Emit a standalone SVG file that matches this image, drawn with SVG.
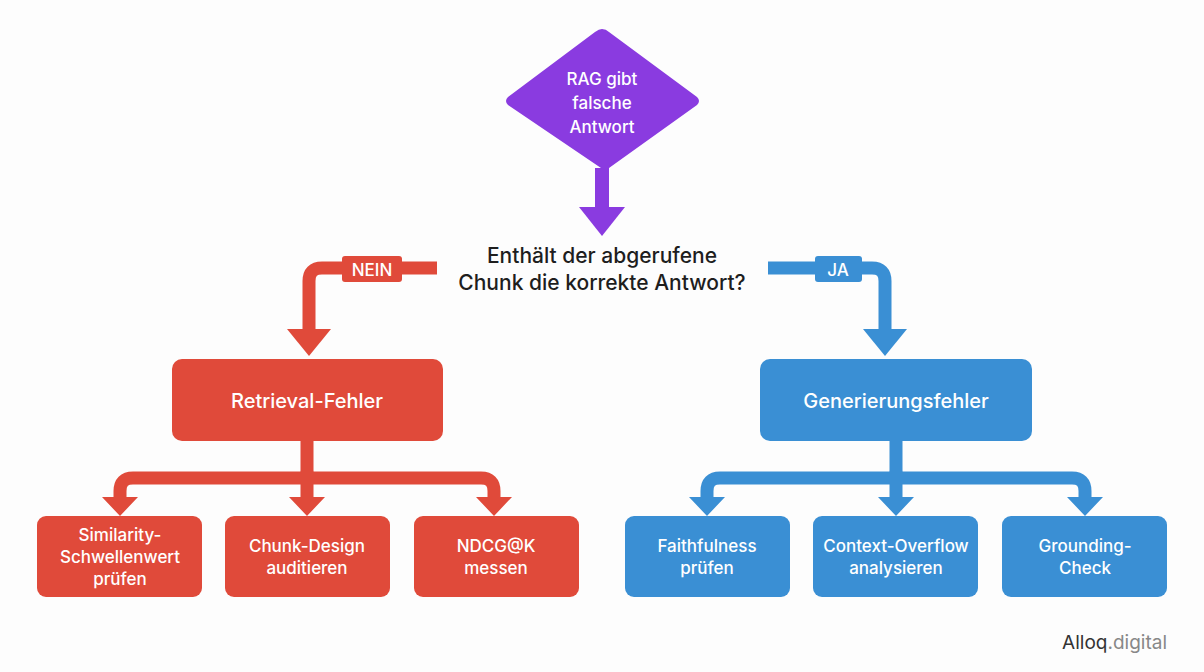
<svg xmlns="http://www.w3.org/2000/svg" width="1204" height="672" viewBox="0 0 1204 672">
<style>
text{font-family:Inter,"Liberation Sans",sans-serif;text-anchor:middle}
.w{fill:#fff;font-size:17px;font-weight:500}
.big{fill:#fff;font-size:20px;font-weight:500}
.r{fill:#E04A3A}.b{fill:#3A8FD4}
.rs{stroke:#E04A3A;fill:none;stroke-width:13}
.bs{stroke:#3A8FD4;fill:none;stroke-width:13}
</style>
<rect width="1204" height="672" fill="#fdfdfd"/>
<g id="connectors">
<path d="M602 168V210" stroke="#8A3BE0" stroke-width="14"/>
<path d="M579 207H625L602 236Z" fill="#8A3BE0"/>
<path class="rs" d="M437 268H322Q309 268 309 281V332"/>
<path class="r" d="M287 329H331L309 356Z"/>
<path class="bs" d="M768 268H872Q885 268 885 281V332"/>
<path class="b" d="M863 329H907L885 356Z"/>
<path class="rs" d="M307 441V470Q307 478 299 478H133Q120 478 120 491V500M307 470Q307 478 315 478H481Q494 478 494 491V500M307 478V500"/>
<path class="r" d="M102 497H138L120 516Z M289 497H325L307 516Z M476 497H512L494 516Z"/>
<path class="bs" d="M896 441V470Q896 478 888 478H720Q707 478 707 491V500M896 470Q896 478 904 478H1072Q1085 478 1085 491V500M896 478V500"/>
<path class="b" d="M689 497H725L707 516Z M878 497H914L896 516Z M1067 497H1103L1085 516Z"/>
<rect class="r" x="342" y="256" width="60" height="26" rx="3"/>
<text x="372" y="276" class="w">NEIN</text>
<rect class="b" x="815" y="256" width="47" height="26" rx="3"/>
<text x="838" y="276" class="w">JA</text>
</g>
<g id="start">
<path d="M602 29Q606 29 609 32L697 97Q701 101 697 105L609 168Q605 172 601 168L508 105Q504 101 508 97L595 32Q599 29 602 29Z" fill="#8A3BE0"/>
<text x="602" y="85" class="w" font-size="18">RAG gibt</text>
<text x="602" y="109" class="w" font-size="18">falsche</text>
<text x="602" y="133" class="w" font-size="18">Antwort</text>
</g>
<g id="question">
<text x="602" y="263" font-size="21" font-weight="500" fill="#1e1e1e">Enthält der abgerufene</text>
<text x="602" y="290" font-size="21" font-weight="500" fill="#1e1e1e">Chunk die korrekte Antwort?</text>
</g>
<g id="retrieval"><rect class="r" x="172" y="359" width="271" height="82" rx="10"/><text x="307" y="408" class="big">Retrieval-Fehler</text></g>
<g id="generierung"><rect class="b" x="760" y="359" width="272" height="82" rx="10"/><text x="896" y="408" class="big">Generierungsfehler</text></g>
<g id="r1"><rect class="r" x="37" y="516" width="165" height="81" rx="9"/><text x="120" y="541" class="w">Similarity-</text><text x="120" y="563" class="w">Schwellenwert</text><text x="120" y="585" class="w">prüfen</text></g>
<g id="r2"><rect class="r" x="225" y="516" width="165" height="81" rx="9"/><text x="307" y="552" class="w">Chunk-Design</text><text x="307" y="574" class="w">auditieren</text></g>
<g id="r3"><rect class="r" x="414" y="516" width="165" height="81" rx="9"/><text x="496" y="552" class="w">NDCG@K</text><text x="496" y="574" class="w">messen</text></g>
<g id="b1"><rect class="b" x="625" y="516" width="165" height="81" rx="9"/><text x="707" y="552" class="w">Faithfulness</text><text x="707" y="574" class="w">prüfen</text></g>
<g id="b2"><rect class="b" x="813" y="516" width="165" height="81" rx="9"/><text x="896" y="552" class="w">Context-Overflow</text><text x="896" y="574" class="w">analysieren</text></g>
<g id="b3"><rect class="b" x="1002" y="516" width="165" height="81" rx="9"/><text x="1085" y="552" class="w">Grounding-</text><text x="1085" y="574" class="w">Check</text></g>
<text x="1167" y="649" font-size="19" style="text-anchor:end" fill="#333">Alloq<tspan fill="#888">.digital</tspan></text>
</svg>
